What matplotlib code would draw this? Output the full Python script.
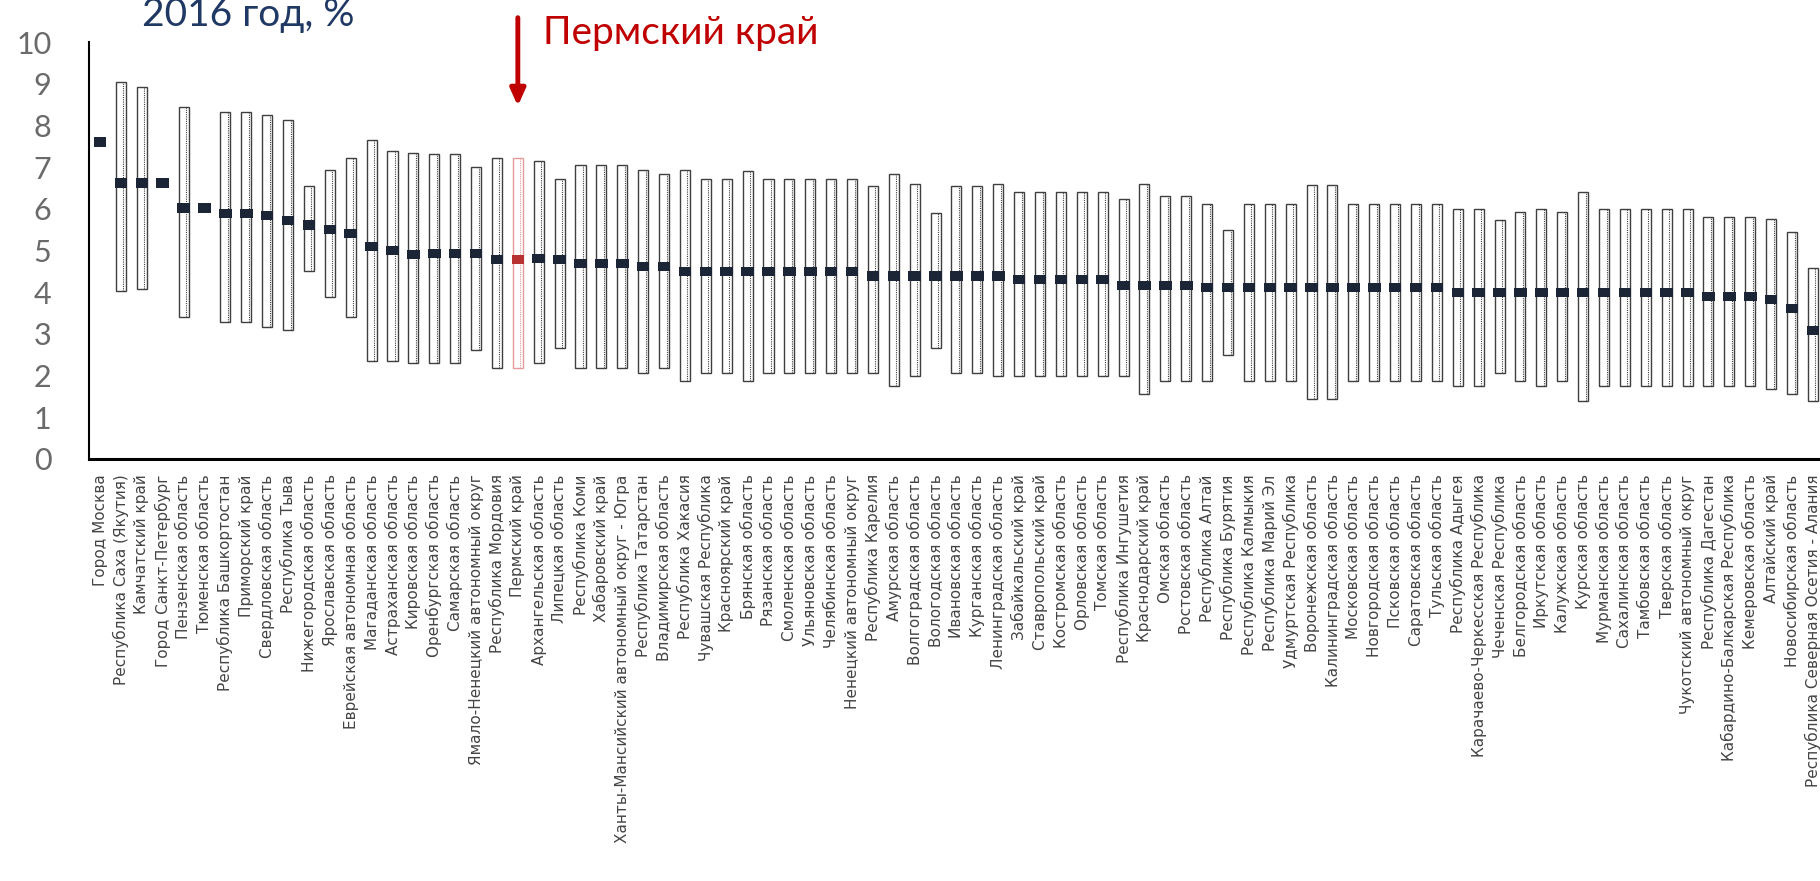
import numpy as np
import matplotlib
matplotlib.use('Agg')
import matplotlib.pyplot as plt

# регионы, min / max и медиана, %
regions = [
    'Город Москва', 'Республика Саха (Якутия)', 'Камчатский край', 'Город Санкт-Петербург',
    'Пензенская область', 'Тюменская область', 'Республика Башкортостан', 'Приморский край',
    'Свердловская область', 'Республика Тыва', 'Нижегородская область', 'Ярославская область',
    'Еврейская автономная область', 'Магаданская область', 'Астраханская область', 'Кировская область',
    'Оренбургская область', 'Самарская область', 'Ямало-Ненецкий автономный округ', 'Республика Мордовия',
    'Пермский край', 'Архангельская область', 'Липецкая область', 'Республика Коми',
    'Хабаровский край', 'Ханты-Мансийский автономный округ - Югра', 'Республика Татарстан',
    'Владимирская область', 'Республика Хакасия', 'Чувашская Республика', 'Красноярский край',
    'Брянская область', 'Рязанская область', 'Смоленская область', 'Ульяновская область',
    'Челябинская область', 'Ненецкий автономный округ', 'Республика Карелия', 'Амурская область',
    'Волгоградская область', 'Вологодская область', 'Ивановская область', 'Курганская область',
    'Ленинградская область', 'Забайкальский край', 'Ставропольский край', 'Костромская область',
    'Орловская область', 'Томская область', 'Республика Ингушетия', 'Краснодарский край',
    'Омская область', 'Ростовская область', 'Республика Алтай', 'Республика Бурятия',
    'Республика Калмыкия', 'Республика Марий Эл', 'Удмуртская Республика', 'Воронежская область',
    'Калининградская область', 'Московская область', 'Новгородская область', 'Псковская область',
    'Саратовская область', 'Тульская область', 'Республика Адыгея', 'Карачаево-Черкесская Республика',
    'Чеченская Республика', 'Белгородская область', 'Иркутская область', 'Калужская область',
    'Курская область', 'Мурманская область', 'Сахалинская область', 'Тамбовская область',
    'Тверская область', 'Чукотский автономный округ', 'Республика Дагестан',
    'Кабардино-Балкарская Республика', 'Кемеровская область', 'Алтайский край',
    'Новосибирская область', 'Республика Северная Осетия - Алания',
]

nan = np.nan
low = [nan, 4.02, 4.08, nan, 3.40, nan, 3.28, 3.28, 3.16, 3.10,
       4.51, 3.89, 3.40, 2.36, 2.36, 2.30, 2.30, 2.30, 2.62, 2.18,
       2.18, 2.30, 2.67, 2.18, 2.19, 2.19, 2.06, 2.18, 1.87, 2.06,
       2.06, 1.87, 2.06, 2.06, 2.06, 2.06, 2.06, 2.06, 1.76, 2.00,
       2.67, 2.06, 2.06, 2.00, 2.00, 2.00, 2.00, 2.00, 2.00, 2.00,
       1.57, 1.87, 1.87, 1.87, 2.50, 1.87, 1.87, 1.87, 1.45, 1.45,
       1.87, 1.87, 1.87, 1.87, 1.87, 1.76, 1.76, 2.06, 1.87, 1.76,
       1.87, 1.39, 1.76, 1.76, 1.76, 1.76, 1.76, 1.76, 1.76, 1.76,
       1.69, 1.57, 1.39]
high = [nan, 9.04, 8.92, nan, 8.43, nan, 8.32, 8.32, 8.24, 8.14,
        6.54, 6.92, 7.21, 7.64, 7.38, 7.33, 7.32, 7.32, 7.01, 7.21,
        7.21, 7.14, 6.71, 7.04, 7.04, 7.04, 6.92, 6.84, 6.92, 6.71,
        6.71, 6.90, 6.71, 6.71, 6.71, 6.71, 6.71, 6.54, 6.84, 6.59,
        5.91, 6.54, 6.54, 6.59, 6.41, 6.41, 6.41, 6.41, 6.41, 6.23,
        6.59, 6.30, 6.30, 6.11, 5.49, 6.11, 6.11, 6.11, 6.56, 6.56,
        6.11, 6.11, 6.11, 6.11, 6.11, 5.99, 5.99, 5.73, 5.93, 5.99,
        5.93, 6.41, 5.99, 5.99, 5.99, 5.99, 5.99, 5.81, 5.81, 5.81,
        5.75, 5.45, 4.59]
median = [7.60, 6.62, 6.62, 6.62, 6.02, 6.02, 5.89, 5.89, 5.83, 5.71,
          5.61, 5.51, 5.41, 5.09, 5.00, 4.91, 4.92, 4.92, 4.92, 4.79,
          4.79, 4.80, 4.79, 4.69, 4.69, 4.69, 4.61, 4.61, 4.49, 4.49,
          4.49, 4.49, 4.49, 4.49, 4.49, 4.49, 4.49, 4.39, 4.39, 4.39,
          4.39, 4.39, 4.39, 4.39, 4.31, 4.31, 4.31, 4.31, 4.31, 4.17,
          4.17, 4.17, 4.17, 4.12, 4.12, 4.12, 4.12, 4.12, 4.12, 4.12,
          4.12, 4.12, 4.12, 4.12, 4.12, 4.00, 4.00, 4.00, 4.00, 4.00,
          4.00, 4.00, 4.00, 4.00, 4.00, 4.00, 4.00, 3.90, 3.90, 3.90,
          3.82, 3.60, 3.08]

highlight = 'Пермский край'

x = np.arange(len(regions))
low = np.array(low)
high = np.array(high)
median = np.array(median)
hl = regions.index(highlight)

fig = plt.figure(figsize=(18.2, 8.81), dpi=100)
ax = fig.add_axes([89/1820, 1-459/881, 1-89/1820, (459-42)/881])

box_col = ['#e79a9a' if i == hl else '#3f3f3f' for i in x]
med_col = ['#b83232' if i == hl else '#1c2536' for i in x]

# диапазоны
ok = ~np.isnan(low)
ax.bar(x[ok], (high - low)[ok], bottom=low[ok], width=0.48, color='white',
       edgecolor=[box_col[i] for i in x[ok]], linewidth=1.0, zorder=2)
ax.vlines(x[ok] + 0.12, low[ok], high[ok], colors=[box_col[i] for i in x[ok]],
          linestyles=(0, (1, 1)), linewidth=0.8, zorder=3)
# медианы
ax.bar(x, 0.22, bottom=median - 0.11, width=0.6, color=med_col, zorder=4)

ax.set_xlim(-0.53, 82.34)
ax.set_ylim(0, 10)
ax.set_yticks(range(0, 11))
ax.tick_params(axis='y', length=0, pad=27, labelsize=22, labelcolor='#6a6a6a')
for t in ax.get_yticklabels():
    t.set_family('Lato')
ax.set_xticks(x)
ax.set_xticklabels(regions, rotation=90, fontsize=11, color='#444444', family='DejaVu Sans')
ax.tick_params(axis='x', length=0, pad=11)

ax.spines['top'].set_visible(False)
ax.spines['right'].set_visible(False)
ax.spines['left'].set_color('black')
ax.spines['left'].set_linewidth(1.5)
ax.spines['bottom'].set_color('black')
ax.spines['bottom'].set_linewidth(2.2)

# подписи
fig.text(142/1820, 1-26/881, '2016 год, %', fontsize=28, color='#1f3864', family='Lato',
         ha='left', va='baseline')
ax.annotate('', xy=(hl, 8.4), xytext=(hl, 10.65), xycoords='data', annotation_clip=False,
            arrowprops=dict(arrowstyle='-|>,head_width=0.45,head_length=1.0', color='#c00000', lw=3.5))
fig.text(543/1820, 1-44/881, highlight, fontsize=28, color='#c00000', family='Lato',
         ha='left', va='baseline')

fig.savefig('out.png', dpi=100, facecolor='white')
